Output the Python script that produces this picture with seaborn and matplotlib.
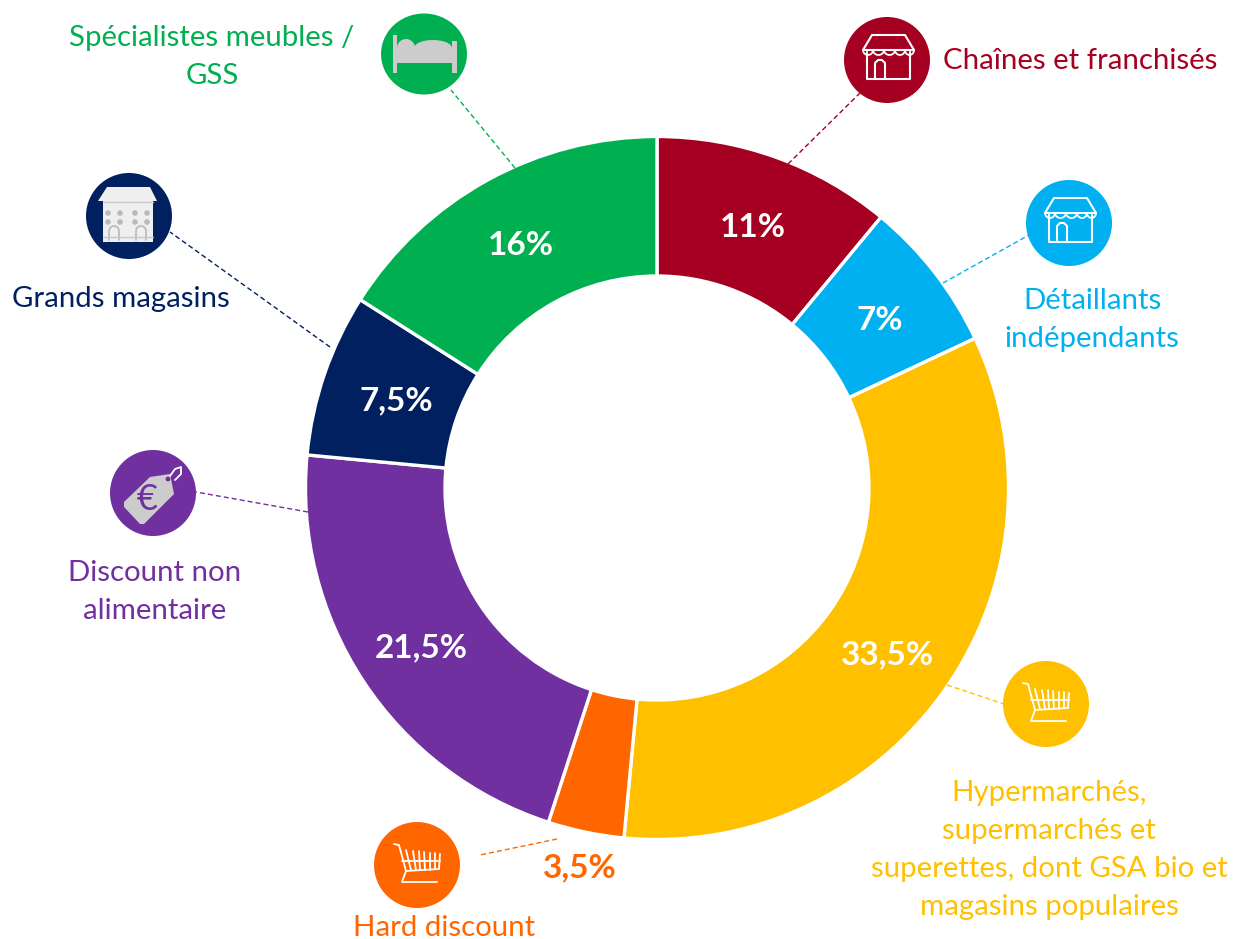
import numpy as np
import matplotlib
matplotlib.use("Agg")
import matplotlib.pyplot as plt
import seaborn as sns
from matplotlib.patches import Circle, Ellipse, Polygon, Rectangle

# ── Data
categories = ["Chaînes et franchisés", "Détaillants\nindépendants",
              "Hypermarchés,\nsupermarchés et\nsuperettes, dont GSA bio et\nmagasins populaires",
              "Hard discount", "Discount non\nalimentaire", "Grands magasins",
              "Spécialistes meubles /\nGSS"]
shares = [11, 7, 33.5, 3.5, 21.5, 7.5, 16]
hex_colors = ["#A50021", "#00B0F0", "#FFC000", "#FF6600", "#7030A0", "#002060", "#00B050"]

# ── Layout in reference pixels (y measured from the top)
W, H = 1233, 939
CENTER = (657, 488)
R_OUT, R_IN = 351.5, 212
label_xy = [(1080, 61), (1092, 320), (1049, 850), (444, 928), (155, 592), (121, 299), (212, 57)]
icon_xy = [(887, 60), (1069, 223), (1046, 704), (417, 865), (153, 493), (129, 216), (424, 54)]
icon_h = [86, 86, 86, 86, 86, 86, 81]
leader_from = [(788, 164), (943, 283), (947, 685), (557, 839), (308, 512), (330, 347), (515, 168)]
leader_to = [(860, 93), (1029, 235), (1004, 704), (480, 855), (196, 492), (170, 232), (451, 90)]
ICON_W = 86
FONT = ["Lato", "DejaVu Sans"]

sns.set_theme(style="white")
plt.rcParams["font.family"] = FONT
palette = sns.color_palette(hex_colors)


def py(y):
    return H - y


def pct_text(p):
    return f"{p:.1f}".rstrip("0").rstrip(".").replace(".", ",") + "%"


fig = plt.figure(figsize=(W / 100, H / 100), dpi=100)
ax = fig.add_axes([0, 0, 1, 1])

wedges, _, autotexts = ax.pie(
    shares, colors=palette, startangle=90, counterclock=False,
    center=(CENTER[0], py(CENTER[1])), radius=R_OUT,
    wedgeprops=dict(width=R_OUT - R_IN, edgecolor="white", linewidth=2.4),
    autopct=pct_text, pctdistance=0.803,
    textprops=dict(color="white", fontsize=24, fontweight="bold"),
)
ax.set_xlim(0, W)
ax.set_ylim(0, H)
ax.set_aspect("equal")
ax.axis("off")

# percentage labels: nudged down onto the reference baseline
for t in autotexts:
    x, y = t.get_position()
    t.set_position((x, y - 5))
    t.set_va("center")
# two labels do not sit on the wedge centre
autotexts[3].set_position((580, py(868)))
autotexts[3].set_color(palette[3])
autotexts[5].set_position((396, py(401)))

# ── Leaders and category labels
for i, name in enumerate(categories):
    x0, y0 = leader_from[i]
    x1, y1 = leader_to[i]
    ax.plot([x0, x1], [py(y0), py(y1)], color=palette[i], lw=1.0,
            dashes=(3.6, 2.2), zorder=1)
    ax.text(label_xy[i][0], py(label_xy[i][1]), name, color=palette[i], fontsize=21.2,
            ha="center", va="center", linespacing=1.58)


# ── Icons (offsets in pixels from the circle centre, y pointing down)
def pts(cx, cy, offsets):
    return [(cx + dx, py(cy + dy)) for dx, dy in offsets]


def line(cx, cy, offsets, color="white", lw=1.5):
    p = np.array(pts(cx, cy, offsets))
    ax.plot(p[:, 0], p[:, 1], color=color, lw=lw, solid_capstyle="round", zorder=4)


def draw_shop(cx, cy):
    line(cx, cy, [(-24, -10), (-15, -25), (18, -25), (27, -10), (-24, -10)])
    line(cx, cy, [(-20, -8), (-20, 19), (23, 19), (23, -8)])
    line(cx, cy, [(-12, 19), (-12, 3), (-9, 0), (-5, 0), (-2, 3), (-2, 19)])
    for a, b in [(-24, -14), (-14, -3), (-3, 8), (8, 18), (18, 27)]:
        t = np.linspace(0, np.pi, 12)
        mid, half = (a + b) / 2, (b - a) / 2
        line(cx, cy, list(zip(mid - half * np.cos(t), -10 + 5 * np.sin(t))), lw=1.3)


def draw_cart(cx, cy, lw=1.3):
    line(cx, cy, [(-23, -21), (-18, -20), (-11, 6), (-15, 17), (20, 17)], lw=lw)
    line(cx, cy, [(-15, -4), (23, -4)], lw=lw)
    line(cx, cy, [(-11, 6), (22, 4)], lw=lw)
    tops = [(-11, -15), (-4, -14), (2, -14), (7, -13), (13, -12), (18, -12), (23, -11)]
    bots = [(-6, 5), (-1, 5), (3, 5), (8, 5), (13, 5), (18, 4), (22, 4)]
    for top, bot in zip(tops, bots):
        line(cx, cy, [top, bot], lw=lw)


def draw_bed(cx, cy):
    grey = "#CCCCCC"
    body = [(-27, 9), (-27, -10)]
    t = np.linspace(np.pi, 0, 14)
    body += list(zip(-18 + 9 * np.cos(t), -6 - 9 * np.sin(t)))
    body += list(zip(9 + 19 * np.cos(t), -6 - 8 * np.sin(t)))
    body += [(28, 9)]
    ax.add_patch(Polygon(pts(cx, cy, body), fc=grey, ec="none", zorder=4))
    for x0, x1, top in [(-31, -27, -19), (28, 33, -13)]:
        ax.add_patch(Rectangle((cx + x0, py(cy + 19)), x1 - x0, 19 - top, fc=grey, ec="none", zorder=4))


def draw_store(cx, cy):
    light = "#EFEFEF"
    ax.add_patch(Polygon(pts(cx, cy, [(-22, -29), (21, -29), (28, -15), (-31, -15)]),
                         fc=light, ec="none", zorder=4))
    ax.add_patch(Rectangle((cx - 26, py(cy + 26)), 50, 41, fc=light, ec="none", zorder=4))
    for dx in [-21, -9, 6, 18]:
        for dy in [-3, 6]:
            ax.add_patch(Circle((cx + dx, py(cy + dy)), 2.8, fc="#B9B9B9", ec="none", zorder=5))
    t = np.linspace(np.pi, 0, 12)
    for dx in [-15, 12]:
        arch = [(dx - 5, 24)] + list(zip(dx + 5 * np.cos(t), 15 - 5 * np.sin(t))) + [(dx + 5, 24)]
        line(cx, cy, arch, color="#B9B9B9", lw=1.2)
    line(cx, cy, [(-26, -14), (24, -14)], color="#C8C8C8", lw=1)
    line(cx, cy, [(-26, 21), (24, 21)], color="#C8C8C8", lw=1)


def draw_tag(cx, cy, color):
    ax.add_patch(Polygon(pts(cx, cy, [(-29, 9), (-3, -16), (17, -19), (21, 1), (-9, 31), (-13, 31), (-29, 14)]),
                         fc="#CCCCCC", ec="none", zorder=4))
    ax.add_patch(Circle((cx + 15, py(cy - 14)), 2.4, fc=color, ec="none", zorder=5))
    line(cx, cy, [(17, -17), (22, -24), (28, -26), (28, -19), (22, -13)], lw=1.3)
    ax.text(cx - 6, py(cy + 6), "€", color=color, fontsize=26, ha="center", va="center", zorder=5)


for i, (cx, cy) in enumerate(icon_xy):
    ax.add_patch(Ellipse((cx, py(cy)), ICON_W, icon_h[i], fc=palette[i], ec="none", zorder=3))

draw_shop(*icon_xy[0])
draw_shop(*icon_xy[1])
draw_cart(*icon_xy[2])
draw_cart(*icon_xy[3])
draw_tag(*icon_xy[4], palette[4])
draw_store(*icon_xy[5])
draw_bed(*icon_xy[6])

fig.savefig("out.png", dpi=100)
